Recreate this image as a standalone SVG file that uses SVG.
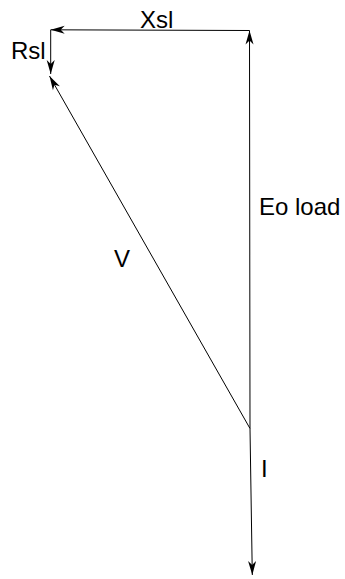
<svg xmlns="http://www.w3.org/2000/svg" width="345" height="579" viewBox="0 0 345 579">
<defs>
<marker id="arr" markerUnits="userSpaceOnUse" markerWidth="20" markerHeight="12" viewBox="-15 -6 16 12" refX="0" refY="0" orient="auto">
<path d="M0,0 L-14,-4 L-10,0 L-14,4 Z" fill="#000"/>
</marker>
</defs>
<style>
.ln{stroke:#000;stroke-width:1;fill:none;marker-end:url(#arr)}
.lb{font-family:"Liberation Sans",Arial,sans-serif;font-size:24px;fill:#000}
</style>
<rect width="345" height="579" fill="#fff"/>
<g id="connectors">
<line class="ln" x1="250" y1="428.5" x2="249.5" y2="30.5"/>
<line class="ln" x1="249.5" y1="30.5" x2="50.7" y2="29.8"/>
<line class="ln" x1="50.7" y1="29.8" x2="50.7" y2="74"/>
<line class="ln" x1="250" y1="428.5" x2="49.5" y2="76"/>
<line class="ln" x1="250" y1="428.5" x2="252.3" y2="575"/>
</g>
<g id="label-xsl"><text class="lb" x="140" y="27.5">Xsl</text></g>
<g id="label-rsl"><text class="lb" x="11" y="58.5">Rsl</text></g>
<g id="label-eo"><text class="lb" x="259" y="215">Eo load</text></g>
<g id="label-v"><text class="lb" x="114" y="267">V</text></g>
<g id="label-i"><text class="lb" x="261" y="476.5">I</text></g>
</svg>
